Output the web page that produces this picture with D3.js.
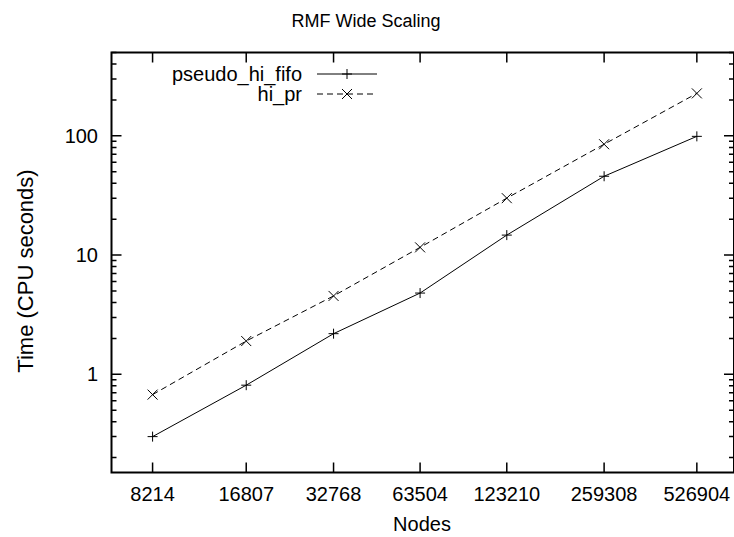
<!DOCTYPE html>
<html>
<head>
<meta charset="utf-8">
<script src="https://cdn.jsdelivr.net/npm/d3@7"></script>
<style>
  body { margin: 0; background: #fff; }
  text { font-family: "Liberation Sans", Arial, sans-serif; fill: #000; }
</style>
</head>
<body>
<div id="chart"></div>
<script>
// data
const nodes = [8214, 16807, 32768, 63504, 123210, 259308, 526904]
const fifoTimes = [0.30, 0.81, 2.19, 4.8, 14.7, 45.8, 99]
const hiprTimes = [0.675, 1.9, 4.54, 11.6, 30, 85, 227]
const yTicks = [1, 10, 100]
const seriesNames = ['pseudo_hi_fifo', 'hi_pr']

const W = 734, H = 537
const m = { left: 111.5, right: 734, top: 52.5, bottom: 472.5 }

let svg = d3.select('#chart').append('svg')
	.attr('width', W)
	.attr('height', H)

let x = d3.scaleLog().domain([6000, 700000]).range([m.left, m.right])
let y = d3.scaleLog().domain([0.15, 500]).range([m.bottom, m.top])

// minor ticks on y, 2..9 per decade
let minor = []
for (let dec = 0.1; dec <= 100; dec *= 10) {
	for (let k = 2; k <= 9; k++) {
		let v = +(dec * k).toPrecision(3)
		if (v >= 0.15 && v <= 500) minor.push(v)
	}
}

let ticks = svg.append('g').attr('stroke', '#000').attr('stroke-width', 1.5)
// y ticks left and right
ticks.selectAll('.ymin').data(minor).enter().append('path')
	.attr('d', d => `M${m.left},${y(d)}h5M${m.right},${y(d)}h-5`)
ticks.selectAll('.ymaj').data(yTicks).enter().append('path')
	.attr('d', d => `M${m.left},${y(d)}h10M${m.right},${y(d)}h-10`)
// x ticks bottom and top
ticks.selectAll('.xmaj').data(nodes).enter().append('path')
	.attr('d', d => `M${x(d)},${m.bottom}v-10M${x(d)},${m.top}v10`)

// frame
svg.append('rect')
	.attr('x', m.left).attr('y', m.top)
	.attr('width', m.right - m.left).attr('height', m.bottom - m.top)
	.attr('fill', 'none').attr('stroke', '#000').attr('stroke-width', 2)

// tick labels
svg.append('g').selectAll('text').data(yTicks).enter().append('text')
	.attr('x', 98).attr('y', d => y(d) + 7)
	.attr('text-anchor', 'end')
	.style('font-size', '20px')
	.text(d => d)

svg.append('g').selectAll('text').data(nodes).enter().append('text')
	.attr('x', d => x(d)).attr('y', 501)
	.attr('text-anchor', 'middle')
	.style('font-size', '20px')
	.text(d => d)

// titles
svg.append('text').attr('x', 366).attr('y', 27)
	.attr('text-anchor', 'middle').style('font-size', '18px')
	.text('RMF Wide Scaling')
svg.append('text').attr('x', 422).attr('y', 531)
	.attr('text-anchor', 'middle').style('font-size', '20px')
	.text('Nodes')
svg.append('text')
	.attr('transform', 'translate(33,271) rotate(-90)')
	.attr('text-anchor', 'middle').style('font-size', '22px')
	.text('Time (CPU seconds)')

// series
const series = [
	{ name: seriesNames[0], vals: fifoTimes, dash: null, mark: 'plus' },
	{ name: seriesNames[1], vals: hiprTimes, dash: '6,4', mark: 'cross' }
]
const line = d3.line().x(d => x(d[0])).y(d => y(d[1]))

function marker(mk, cx, cy) {
	let s = 5
	if (mk === 'plus') return `M${cx - s},${cy}h${2 * s}M${cx},${cy - s}v${2 * s}`
	return `M${cx - s},${cy - s}l${2 * s},${2 * s}M${cx - s},${cy + s}l${2 * s},${-2 * s}`
}

series.forEach((s, i) => {
	let pts = nodes.map((n, j) => [n, s.vals[j]])
	svg.append('path')
		.attr('d', line(pts))
		.attr('fill', 'none').attr('stroke', '#000').attr('stroke-width', 1)
		.attr('stroke-dasharray', s.dash)
	svg.append('g').selectAll('path').data(pts).enter().append('path')
		.attr('d', d => marker(s.mark, x(d[0]), y(d[1])))
		.attr('stroke', '#000').attr('stroke-width', 1).attr('fill', 'none')

	// key
	let ky = 74 + i * 20
	svg.append('text').attr('x', 302).attr('y', ky + 7)
		.attr('text-anchor', 'end').style('font-size', '20px')
		.text(s.name)
	svg.append('path')
		.attr('d', `M317,${ky}H377`)
		.attr('stroke', '#000').attr('stroke-width', 1)
		.attr('stroke-dasharray', s.dash)
	svg.append('path')
		.attr('d', marker(s.mark, 347, ky))
		.attr('stroke', '#000').attr('stroke-width', 1)
})
</script>
</body>
</html>
